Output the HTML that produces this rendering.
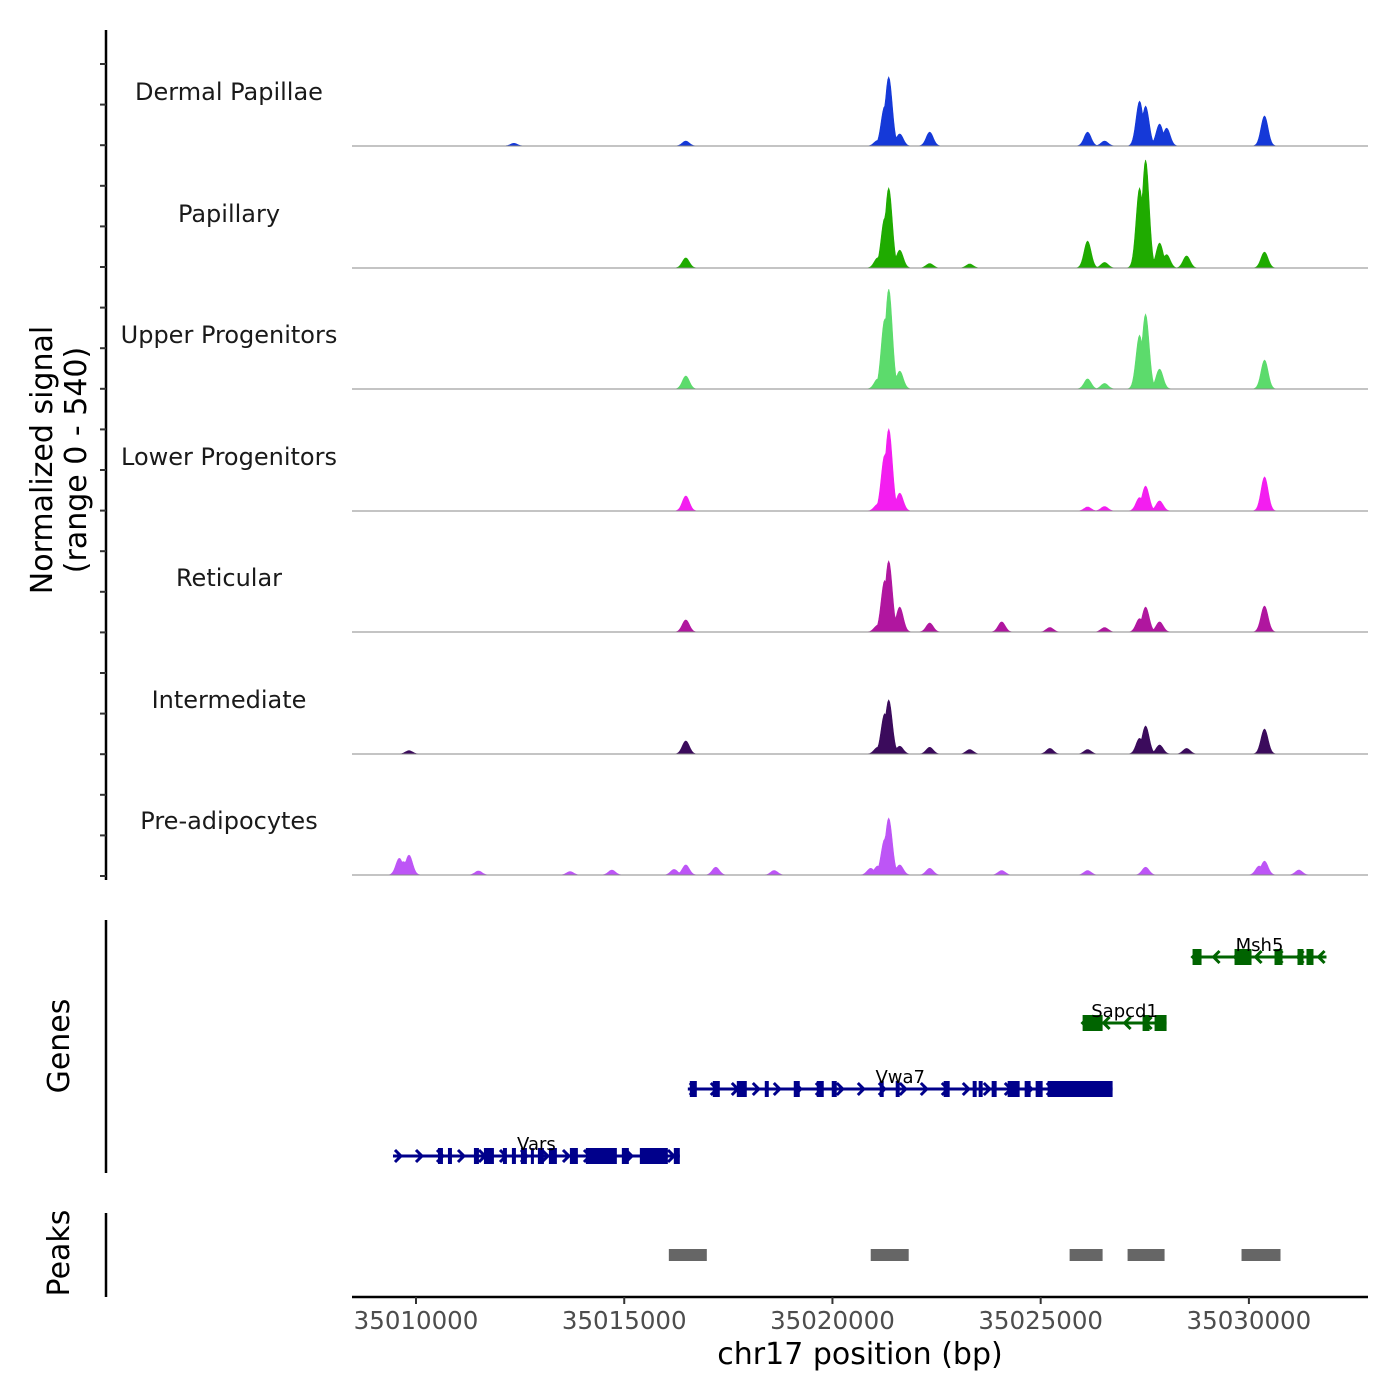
<!DOCTYPE html>
<html><head><meta charset="utf-8"><style>
html,body{margin:0;padding:0;background:#fff}
svg{display:block;font-family:"DejaVu Sans","Liberation Sans",sans-serif}
</style></head><body>
<svg id="chart" width="1400" height="1400" viewBox="0 0 1400 1400">
<g id="axes"></g>
<g id="tracks"></g>
<g id="genes"></g>
<g id="peaks"></g>
<text transform="translate(52,460) rotate(-90)" text-anchor="middle" font-size="30" fill="#000"><tspan x="0" dy="0">Normalized signal</tspan><tspan x="0" dy="34">(range 0 - 540)</tspan></text>
<text transform="translate(69,1046) rotate(-90)" text-anchor="middle" font-size="30">Genes</text>
<text transform="translate(69,1253) rotate(-90)" text-anchor="middle" font-size="30">Peaks</text>
<text x="860" y="1364" text-anchor="middle" font-size="30">chr17 position (bp)</text>
</svg>
<script>
const NS="http://www.w3.org/2000/svg";
const trackNames=["Dermal Papillae","Papillary","Upper Progenitors","Lower Progenitors","Reticular","Intermediate","Pre-adipocytes"];
const trackColors=["#1539d8","#1fab00","#5cdb6c","#f31ef0","#b0169f","#3b0b5c","#bd55f6"];
const yMax=540;
const xTicks=[35010000,35015000,35020000,35025000,35030000];
// peaks per track: positions (bp) and heights (signal)
const pos0=[35012351,35016479,35021087,35021255,35021351,35021615,35022335,35026127,35026535,35027375,35027519,35027855,35028023,35030375];
const val0=[12,22,25,178,308,54,62,62,22,200,178,98,80,134];
const pos1=[35016479,35021087,35021255,35021351,35021615,35022335,35023295,35026127,35026535,35027375,35027519,35027855,35028023,35028503,35030375];
const val1=[45,45,223,357,80,20,18,120,25,357,482,111,60,54,71];
const pos2=[35016479,35021087,35021255,35021351,35021615,35026127,35026535,35027375,35027519,35027855,35030375];
const val2=[58,45,312,446,80,45,25,240,334,89,129];
const pos3=[35016479,35021087,35021255,35021351,35021615,35026127,35026535,35027375,35027519,35027855,35030375];
const val3=[67,30,250,366,80,18,20,60,111,45,152];
const pos4=[35016479,35021087,35021255,35021351,35021615,35022335,35024063,35025222,35026535,35027375,35027519,35027855,35030375];
const val4=[54,30,230,317,111,40,45,20,20,60,111,45,116];
const pos5=[35009831,35016479,35021087,35021255,35021351,35021615,35022335,35023295,35025222,35026127,35027375,35027519,35027855,35028503,35030375];
const val5=[15,58,30,180,241,35,30,20,25,20,70,125,40,25,111];
const pos6=[35009600,35009700,35009831,35011500,35013700,35014703,35016200,35016479,35017199,35018600,35020919,35021087,35021255,35021351,35021615,35022335,35024063,35026127,35027519,35030247,35030375,35031200];
const val6=[75,60,89,18,15,22,25,45,35,20,30,40,160,254,45,30,20,20,35,40,62,22];
const trackPos=[pos0,pos1,pos2,pos3,pos4,pos5,pos6];
const trackVal=[val0,val1,val2,val3,val4,val5,val6];
const trackStart=[35008463,35008463,35009400,35009400,35008463,35008463,35008463];
const trackEnd=[35032860,35032860,35031900,35031900,35032860,35032860,35032860];
// genes
const geneNames=["Msh5","Sapcd1","Vwa7","Vars"];
const geneStart=[35028647,35026007,35016527,35009447];
const geneEnd=[35031863,35028023,35026727,35016335];
const geneStrand=[-1,-1,1,1];
const geneColors=["#006400","#006400","#00008b","#00008b"];
const exons0=[[35028647,35028863],[35029655,35030063],[35030615,35030807],[35031167,35031311],[35031383,35031551]];
const exons1=[[35026007,35026487],[35027447,35027615],[35027735,35028023]];
const exons2=[[35016575,35016743],[35017127,35017295],[35017703,35017943],[35018375,35018471],[35019071,35019215],[35019623,35019791],[35019983,35020103],[35021135,35021231],[35021519,35021615],[35022671,35022815],[35023367,35023463],[35023511,35023607],[35023823,35023943],[35024207,35024495],[35024615,35024759],[35024879,35025047],[35025167,35026727]];
const exons3=[[35010527,35010647],[35010767,35010863],[35011391,35011511],[35011631,35011871],[35012087,35012183],[35012303,35012399],[35012519,35012663],[35012759,35012831],[35012927,35013071],[35013191,35013383],[35013695,35013887],[35014079,35014823],[35014943,35015111],[35015375,35016047],[35016191,35016335]];
const geneExons=[exons0,exons1,exons2,exons3];
const peakStart=[35016071,35020919,35025695,35027087,35029823];
const peakEnd=[35016983,35021831,35026487,35027975,35030759];

const X0=352,X1=1368,BP0=35008463,BP1=35032860;
const xs=bp=>X0+(bp-BP0)/(BP1-BP0)*(X1-X0);
const base=[146,268,389,511,632,754,875];
const tH=121;
const ys=(v,i)=>base[i]-v/yMax*tH;
function mk(tag,attrs,parent){const e=document.createElementNS(NS,tag);for(const k in attrs)e.setAttribute(k,attrs[k]);parent.appendChild(e);return e;}

const axes=document.getElementById('axes');
let l=mk('line',{x1:106,y1:30,x2:106,y2:880,stroke:'#000','stroke-width':2.5},axes);


for(let y=64;y<=877;y+=40.6){let t=mk('line',{x1:100,y1:y,x2:106,y2:y,stroke:'#333','stroke-width':2},axes);

}
l=mk('line',{x1:106,y1:920,x2:106,y2:1173,stroke:'#000','stroke-width':2.5},axes);


l=mk('line',{x1:106,y1:1213,x2:106,y2:1297,stroke:'#000','stroke-width':2.5},axes);


l=mk('line',{x1:X0,y1:1297,x2:X1,y2:1297,stroke:'#000','stroke-width':2.5},axes);


xTicks.forEach(v=>{const x=xs(v);
let t=mk('line',{x1:x,y1:1297,x2:x,y2:1304,stroke:'#333','stroke-width':2},axes);


let tx=mk('text',{x:x,y:1329,'text-anchor':'middle','font-size':24.5,fill:'#4d4d4d'},axes);tx.textContent=v;

});

const tracks=document.getElementById('tracks');
trackNames.forEach((name,i)=>{
  const g=mk('g',{},tracks);
  
  
  const P=trackPos[i],V=trackVal[i];
  let d='M'+xs(trackStart[i])+','+base[i];
  for(let bp=trackStart[i];bp<=trackEnd[i];bp+=24){
    let v=0;for(let k=0;k<P.length;k++){const s=85;v=Math.max(v,V[k]*Math.exp(-Math.pow((bp-P[k])/s,2)/2));}
    d+='L'+xs(bp).toFixed(1)+','+ys(v,i).toFixed(1);
  }
  d+='L'+xs(trackEnd[i])+','+base[i]+'Z';
  const p=mk('path',{d:d,fill:trackColors[i],stroke:trackColors[i],'stroke-width':0.6},g);
  
  
  const bl=mk('line',{x1:X0,y1:base[i],x2:X1,y2:base[i],stroke:'#888','stroke-width':1},g);
  
  
  const t=mk('text',{x:229,y:base[i]-46,'text-anchor':'middle','font-size':24,fill:'#1a1a1a'},g);t.textContent=name;
  
  
});

const genes=document.getElementById('genes');
const gy=[957,1023,1089,1156];
geneNames.forEach((n,i)=>{
  const g=mk('g',{},genes);
  
  
  const c=geneColors[i],y=gy[i],x0=xs(geneStart[i]),x1=xs(geneEnd[i]);
  const ln=mk('line',{x1:x0,y1:y,x2:x1,y2:y,stroke:c,'stroke-width':3},g);
  
  
  for(let x=x0+(geneStrand[i]>0?6:2);x<=x1-1;x+=21){
    const s=geneStrand[i];
    const ch=mk('path',{d:`M${x-4*s},${y-6} L${x+2*s},${y} L${x-4*s},${y+6}`,stroke:c,'stroke-width':3,fill:'none'},g);
    
    
  }
  geneExons[i].forEach(e=>{
    const r=mk('rect',{x:xs(e[0]),y:y-8,width:Math.max(3,xs(e[1])-xs(e[0])),height:16,fill:c},g);
    
    
  });
  const t=mk('text',{x:(x0+x1)/2,y:y-6,'text-anchor':'middle','font-size':18,fill:'#000'},g);t.textContent=n;
  
  
});

const peaks=document.getElementById('peaks');
peakStart.forEach((s,i)=>{
  const r=mk('rect',{x:xs(s),y:1249,width:xs(peakEnd[i])-xs(s),height:12,fill:'#666'},peaks);
  
  
});
</script>
</body></html>
